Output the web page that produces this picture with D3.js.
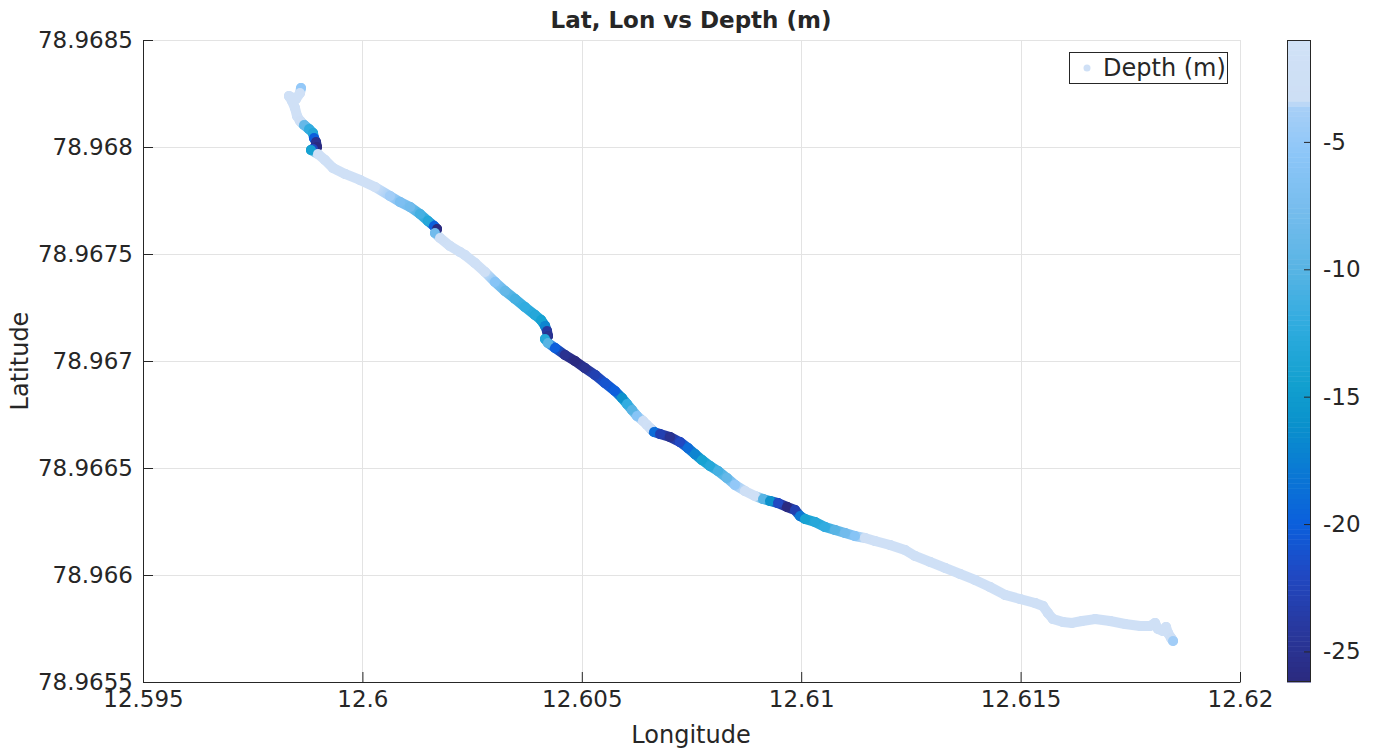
<!doctype html>
<html>
<head>
  <meta charset="utf-8">
  <script src="https://cdnjs.cloudflare.com/ajax/libs/d3/7.8.5/d3.min.js"></script>
  <style>
    body { margin: 0; background: #fff; }
    svg text { font-family: "DejaVu Sans", sans-serif; fill: #262626; }
  </style>
</head>
<body>
  <svg id="chart" width="1375" height="751"></svg>
  <script>
// track: longitude, latitude, depth (m)
var lon = [12.598601, 12.598578, 12.598487, 12.598327, 12.598396, 12.598464, 12.598510, 12.598578, 12.598669, 12.598783,
  12.598874, 12.598897, 12.598943, 12.598965, 12.598874, 12.598829, 12.598988, 12.599148, 12.599330, 12.599604,
  12.599945, 12.600287, 12.600629, 12.600857, 12.601085, 12.601313, 12.601495, 12.601632, 12.601700, 12.601655,
  12.601769, 12.601997, 12.602224, 12.602338, 12.602566, 12.602794, 12.603022, 12.603250, 12.603478, 12.603706,
  12.603934, 12.604070, 12.604162, 12.604207, 12.604230, 12.604162, 12.604230, 12.604389, 12.604617, 12.604845,
  12.605073, 12.605301, 12.605529, 12.605757, 12.605916, 12.606030, 12.606144, 12.606258, 12.606395, 12.606486,
  12.606555, 12.606646, 12.606782, 12.607010, 12.607238, 12.607420, 12.607580, 12.607740, 12.607922, 12.608104,
  12.608309, 12.608492, 12.608720, 12.608947, 12.609130, 12.609289, 12.609472, 12.609677, 12.609859, 12.609973,
  12.610087, 12.610315, 12.610543, 12.610771, 12.610999, 12.611226, 12.611454, 12.611682, 12.612024, 12.612366,
  12.612594, 12.612936, 12.613278, 12.613619, 12.613961, 12.614303, 12.614645, 12.614987, 12.615329, 12.615511,
  12.615625, 12.615739, 12.615967, 12.616172, 12.616400, 12.616696, 12.617038, 12.617380, 12.617722, 12.617950,
  12.618063, 12.618132, 12.618246, 12.618314, 12.618360, 12.618428, 12.618474];
var lat = [78.968276, 78.968252, 78.968224, 78.968238, 78.968215, 78.968182, 78.968145, 78.968122, 78.968103, 78.968084,
  78.968065, 78.968042, 78.968023, 78.968000, 78.967991, 78.967986, 78.967967, 78.967939, 78.967902, 78.967874,
  78.967846, 78.967813, 78.967771, 78.967743, 78.967720, 78.967687, 78.967654, 78.967631, 78.967617, 78.967598,
  78.967575, 78.967537, 78.967509, 78.967495, 78.967458, 78.967416, 78.967369, 78.967327, 78.967290, 78.967252,
  78.967215, 78.967192, 78.967164, 78.967140, 78.967117, 78.967103, 78.967084, 78.967061, 78.967028, 78.967000,
  78.966967, 78.966935, 78.966897, 78.966860, 78.966827, 78.966799, 78.966771, 78.966743, 78.966720, 78.966701,
  78.966687, 78.966668, 78.966659, 78.966645, 78.966621, 78.966593, 78.966565, 78.966537, 78.966509, 78.966486,
  78.966453, 78.966421, 78.966392, 78.966369, 78.966355, 78.966346, 78.966336, 78.966318, 78.966304, 78.966276,
  78.966262, 78.966248, 78.966224, 78.966210, 78.966196, 78.966182, 78.966173, 78.966159, 78.966140, 78.966117,
  78.966089, 78.966061, 78.966033, 78.966005, 78.965977, 78.965944, 78.965907, 78.965888, 78.965869, 78.965855,
  78.965822, 78.965794, 78.965780, 78.965776, 78.965785, 78.965794, 78.965785, 78.965771, 78.965762, 78.965762,
  78.965776, 78.965748, 78.965738, 78.965757, 78.965729, 78.965706, 78.965692];
var depth = [-5, -2, -2, -2, -2, -2, -2, -3, -9, -12,
  -13, -20, -25, -26, -22, -14, -2, -2, -2, -2,
  -2, -2, -4, -7, -8, -11, -13, -20, -26, -8,
  -3, -2, -2, -2, -2, -3, -6, -9, -11, -12,
  -13, -14, -17, -24, -25, -13, -10, -20, -25, -26,
  -25, -23, -21, -20, -16, -12, -10, -6, -3, -2,
  -3, -19, -23, -25, -22, -19, -17, -14, -13, -11,
  -9, -5, -3, -2, -10, -16, -22, -26, -23, -18,
  -14, -13, -12, -10, -8, -6, -3, -2, -2, -2,
  -2, -2, -2, -2, -2, -2, -2, -2, -2, -2,
  -2, -2, -2, -2, -2, -2, -2, -2, -2, -2,
  -2, -2, -2, -2, -2, -3, -4];

var xTicks = [12.595, 12.6, 12.605, 12.61, 12.615, 12.62];
var xTickLabels = ["12.595", "12.6", "12.605", "12.61", "12.615", "12.62"];
var yTicks = [78.9655, 78.966, 78.9665, 78.967, 78.9675, 78.968, 78.9685];
var yTickLabels = ["78.9655", "78.966", "78.9665", "78.967", "78.9675", "78.968", "78.9685"];
var cTicks = [-25, -20, -15, -10, -5];

// colormap stops (depth -> colour)
var cmapStops = [-26.2, -24, -22, -20, -18, -16, -14.5, -12, -10, -7.5, -5.5, -3.6, -3.4, -1];
var cmapColors = ["#2b2a7e", "#28399f", "#2048c2", "#0b5fdc", "#0a78d4", "#0a92cc", "#12a0cf",
  "#32ace0", "#58b4e4", "#78bdee", "#8cc6f8", "#a8cff7", "#cddff5", "#d0e1f6"];

var svg = d3.select("#chart");
var pLeft = 143, pRight = 1240, pTop = 40, pBottom = 682;
var x = d3.scaleLinear().domain([12.595, 12.62]).range([pLeft, pRight]);
var y = d3.scaleLinear().domain([78.9655, 78.9685]).range([pBottom, pTop]);
var color = d3.scaleLinear().domain(cmapStops).range(cmapColors).clamp(true);

// grid
var grid = svg.append("g").attr("stroke", "#e3e3e3").attr("stroke-width", 1);
xTicks.forEach(t => grid.append("line")
  .attr("x1", Math.round(x(t)) + 0.5).attr("x2", Math.round(x(t)) + 0.5)
  .attr("y1", pTop).attr("y2", pBottom));
yTicks.forEach(t => grid.append("line")
  .attr("y1", Math.round(y(t)) + 0.5).attr("y2", Math.round(y(t)) + 0.5)
  .attr("x1", pLeft).attr("x2", pRight));

// track
var defs = svg.append("defs");
defs.append("filter").attr("id", "soft")
  .append("feGaussianBlur").attr("stdDeviation", 0.7);
var track = svg.append("g").attr("filter", "url(#soft)");
for (var i = 0; i < lon.length - 1; i++) {
  var x1 = x(lon[i]), y1 = y(lat[i]), x2 = x(lon[i + 1]), y2 = y(lat[i + 1]);
  var g = defs.append("linearGradient").attr("id", "seg" + i)
    .attr("gradientUnits", "userSpaceOnUse")
    .attr("x1", x1).attr("y1", y1).attr("x2", x2).attr("y2", y2);
  g.append("stop").attr("offset", "0%").attr("stop-color", color(depth[i]));
  g.append("stop").attr("offset", "100%").attr("stop-color", color(depth[i + 1]));
  track.append("line")
    .attr("x1", x1).attr("y1", y1).attr("x2", x2).attr("y2", y2)
    .attr("stroke", "url(#seg" + i + ")")
    .attr("stroke-width", 10)
    .attr("stroke-linecap", "round");
}
track.selectAll("circle").data(depth).enter().append("circle")
  .attr("cx", (d, i) => x(lon[i]))
  .attr("cy", (d, i) => y(lat[i]))
  .attr("r", 5)
  .attr("fill", d => color(d));

// axes (ticks inward, like the original)
var xAxis = svg.append("g").attr("transform", "translate(0," + pBottom + ")")
  .call(d3.axisBottom(x).tickValues(xTicks).tickFormat((d, i) => xTickLabels[i])
    .tickSizeInner(-10).tickSizeOuter(0).tickPadding(9));
var yAxis = svg.append("g").attr("transform", "translate(" + pLeft + ",0)")
  .call(d3.axisLeft(y).tickValues(yTicks).tickFormat((d, i) => yTickLabels[i])
    .tickSizeInner(-10).tickSizeOuter(0).tickPadding(10));
[xAxis, yAxis].forEach(a => {
  a.select(".domain").attr("stroke", "#262626");
  a.selectAll(".tick line").attr("stroke", "#262626");
  a.selectAll("text").attr("font-size", 23).attr("font-family", "DejaVu Sans").attr("fill", "#262626");
});

// labels
svg.append("text").attr("x", 691).attr("y", 28).attr("text-anchor", "middle")
  .attr("font-size", 23).attr("font-weight", "bold").attr("fill", "#000")
  .text("Lat, Lon vs Depth (m)");
svg.append("text").attr("x", 691).attr("y", 743).attr("text-anchor", "middle")
  .attr("font-size", 24).text("Longitude");
svg.append("text").attr("transform", "translate(28,361) rotate(-90)").attr("text-anchor", "middle")
  .attr("font-size", 24).text("Latitude");

// legend
var lg = svg.append("g");
lg.append("rect").attr("x", 1069.5).attr("y", 52.5).attr("width", 158).attr("height", 31)
  .attr("fill", "#fff").attr("stroke", "#262626");
lg.append("circle").attr("cx", 1087).attr("cy", 68).attr("r", 3.5).attr("fill", color(-2));
lg.append("text").attr("x", 1103).attr("y", 76).attr("font-size", 24).attr("fill", "#000").text("Depth (m)");

// colorbar
var cLeft = 1287, cRight = 1311;
var cy = d3.scaleLinear().domain([-26.2, -1]).range([pBottom, pTop]);
var bands = d3.range(-26.2, -1, 0.2);
svg.append("g").selectAll("rect").data(bands).enter().append("rect")
  .attr("x", cLeft).attr("width", cRight - cLeft)
  .attr("y", d => cy(Math.min(d + 0.2, -1)))
  .attr("height", d => cy(d) - cy(Math.min(d + 0.2, -1)) + 0.5)
  .attr("fill", d => color(d + 0.1));
svg.append("rect").attr("x", cLeft + 0.5).attr("y", pTop + 0.5)
  .attr("width", cRight - cLeft - 1).attr("height", pBottom - pTop - 1)
  .attr("fill", "none").attr("stroke", "#262626");
var cAxis = svg.append("g").attr("transform", "translate(" + cRight + ",0)")
  .call(d3.axisRight(cy).tickValues(cTicks).tickFormat(d => d)
    .tickSizeInner(-7).tickSizeOuter(0).tickPadding(12));
cAxis.select(".domain").remove();
cAxis.selectAll(".tick line").attr("stroke", "#262626");
cAxis.selectAll("text").attr("font-size", 23).attr("font-family", "DejaVu Sans").attr("fill", "#262626");
  </script>
</body>
</html>
